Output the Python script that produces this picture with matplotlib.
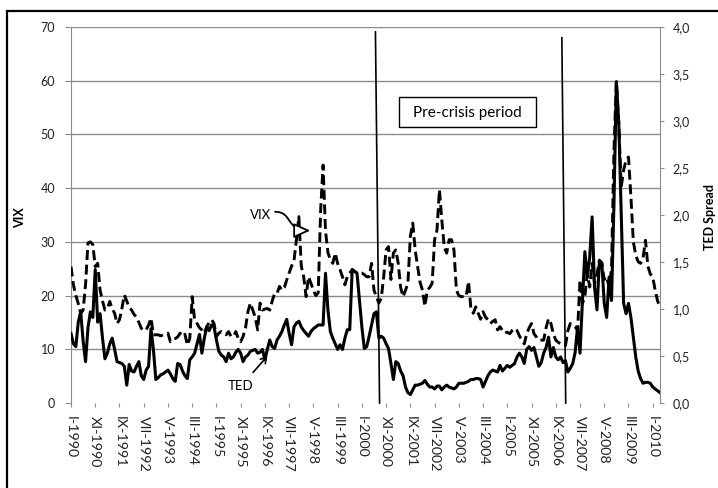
import numpy as np
import matplotlib.pyplot as plt
from matplotlib.patches import Rectangle, FancyArrowPatch
from matplotlib.path import Path
from matplotlib.ticker import FuncFormatter

plt.rcParams['font.family'] = ['Lato', 'DejaVu Sans']

# monthly series, I-1990 .. IV-2010
vix = [
    25.4, 22, 20, 18.5, 16.7, 17.3, 22, 29.8, 30, 29.5, 25.4, 26,           # 1990
    21, 19, 17.3, 17.6, 18.9, 17.5, 16.7, 14.8, 15.5, 17.6, 20.1, 19,       # 1991
    17.8, 17.3, 16.5, 16, 15, 13.9, 13.5, 13.6, 14.5, 15.8, 12.7, 12.7,     # 1992
    12.7, 12.5, 12.7, 12.9, 13, 11.4, 11.8, 12, 12.3, 13, 12.4, 12.8,       # 1993
    10.8, 12, 19.8, 15.5, 14.8, 14, 13.6, 13, 14.2, 15, 15.5, 14.8,         # 1994
    12.4, 13, 13.3, 13, 12.7, 13.3, 12.4, 12.4, 13.3, 12, 11.4, 12.4,       # 1995
    14, 17, 18.6, 17.3, 16, 13.6, 18.6, 17.3, 17.5, 17.6, 17.3, 19,         # 1996
    20.4, 20.4, 21.7, 21, 21.5, 22.9, 24.2, 25.5, 26.5, 30.4, 34.7, 25.5,   # 1997
    23.5, 19.8, 23.5, 22.3, 21, 20, 20.5, 36, 44.3, 32, 28, 26.7,           # 1998
    26, 27.9, 26, 24.8, 23.5, 22, 23.5, 24.2, 24.8, 24.5, 24.2, 24.2,       # 1999
    24.2, 23.9, 23.5, 23.5, 26, 21, 19.8, 18.6, 19.5, 23.5, 28.5, 29.1,     # 2000
    23, 27.9, 28.5, 26, 21.5, 19.8, 21, 22.3, 31, 33.5, 28.5, 25.4,         # 2001
    22.5, 21, 18, 21, 21.5, 22.3, 30.4, 32.2, 39.7, 34, 29, 27.9,           # 2002
    30.4, 30.4, 28.5, 21, 20, 19.8, 19.8, 19.8, 22.6, 17.5, 16.7, 17.9,     # 2003
    16.7, 15.6, 17, 16, 15.5, 14.8, 15.2, 15.5, 13.6, 14.2, 13.5, 13,       # 2004
    13.2, 12.9, 13.5, 13.9, 13.5, 12.5, 11.7, 11, 12.9, 14, 14.8, 12.9,     # 2005
    12.3, 11.7, 11.7, 11.7, 14, 15.7, 14.8, 12.9, 11.7, 11.3, 11, 10.8,     # 2006
    10.7, 13.5, 14.8, 14.5, 14.2, 13.5, 22.9, 18.5, 19.8, 24.1, 21.6, 26,   # 2007
    22.2, 24, 26.6, 26, 23, 23.5, 21.5, 25, 47, 59.9, 52, 40.2,             # 2008
    43.4, 45.2, 45.8, 38.4, 30, 27.5, 26.3, 26, 27, 30.3, 25.5, 24,         # 2009
    23.5, 21, 19, 17.9,                                                     # 2010
]

ted = [
    0.74, 0.63, 0.60, 0.86, 0.97, 0.66, 0.44, 0.80, 0.97, 0.91, 1.42, 0.86,
    0.95, 0.69, 0.47, 0.53, 0.63, 0.69, 0.57, 0.44, 0.43, 0.42, 0.39, 0.19,
    0.41, 0.34, 0.33, 0.39, 0.44, 0.29, 0.25, 0.35, 0.39, 0.79, 0.57, 0.25,
    0.27, 0.30, 0.31, 0.33, 0.35, 0.31, 0.26, 0.23, 0.42, 0.41, 0.34, 0.29,
    0.26, 0.46, 0.49, 0.53, 0.63, 0.73, 0.53, 0.69, 0.81, 0.77, 0.83, 0.81,
    0.67, 0.55, 0.51, 0.49, 0.44, 0.53, 0.47, 0.49, 0.54, 0.57, 0.53, 0.44,
    0.49, 0.51, 0.55, 0.56, 0.57, 0.53, 0.54, 0.57, 0.46, 0.57, 0.67, 0.60,
    0.58, 0.67, 0.71, 0.76, 0.83, 0.89, 0.74, 0.62, 0.81, 0.85, 0.87, 0.81,
    0.77, 0.74, 0.71, 0.76, 0.79, 0.81, 0.83, 0.83, 0.83, 1.38, 0.99, 0.76,
    0.69, 0.63, 0.57, 0.62, 0.57, 0.69, 0.78, 0.78, 1.42, 1.40, 1.38, 1.09,
    0.81, 0.58, 0.60, 0.71, 0.83, 0.95, 0.97, 0.69, 0.71, 0.69, 0.63, 0.58,
    0.42, 0.25, 0.44, 0.42, 0.34, 0.29, 0.17, 0.11, 0.09, 0.14, 0.19, 0.19,
    0.20, 0.21, 0.24, 0.20, 0.17, 0.17, 0.15, 0.18, 0.18, 0.14, 0.17, 0.19,
    0.17, 0.16, 0.15, 0.17, 0.21, 0.21, 0.21, 0.22, 0.23, 0.25, 0.25, 0.26,
    0.26, 0.25, 0.17, 0.23, 0.29, 0.33, 0.35, 0.34, 0.33, 0.40, 0.34, 0.37,
    0.40, 0.38, 0.40, 0.42, 0.49, 0.53, 0.49, 0.42, 0.57, 0.60, 0.56, 0.59,
    0.49, 0.39, 0.43, 0.53, 0.59, 0.70, 0.49, 0.59, 0.49, 0.46, 0.49, 0.43,
    0.45, 0.33, 0.37, 0.42, 0.54, 0.81, 0.53, 1.09, 1.61, 1.34, 1.55, 1.98,
    1.23, 0.99, 1.51, 1.49, 1.06, 0.91, 1.34, 1.09, 2.11, 3.42, 2.97, 2.00,
    1.06, 0.95, 1.06, 0.91, 0.70, 0.49, 0.34, 0.26, 0.21, 0.22, 0.22, 0.21,
    0.17, 0.15, 0.13, 0.11,
]

tick_labels = ["I-1990", "XI-1990", "IX-1991", "VII-1992", "V-1993", "III-1994",
               "I-1995", "XI-1995", "IX-1996", "VII-1997", "V-1998", "III-1999",
               "I-2000", "XI-2000", "IX-2001", "VII-2002", "V-2003", "III-2004",
               "I-2005", "XI-2005", "IX-2006", "VII-2007", "V-2008", "III-2009",
               "I-2010"]

# hand-drawn period separators (month index at top / bottom, top height in VIX units)
sep_top = [125.6, 202.5]
sep_bottom = [127.3, 204.1]
sep_height = [69.1, 68.0]

months = np.arange(len(vix))
grey = '#8c8c8c'

fig = plt.figure(figsize=(7.18, 4.88), dpi=100)
fig.patches.append(Rectangle((7 / 718, -0.1), 1.0, 1.1 - 11 / 488, transform=fig.transFigure,
                             fill=False, edgecolor='black', linewidth=1.6))

ax = fig.add_axes([71 / 718, 1 - 403 / 488, 589 / 718, 376 / 488])
ax2 = ax.twinx()

ax.plot(months, vix, color='black', linewidth=2.1, linestyle=(0, (3.4, 1.6)), zorder=3)
ax2.plot(months, ted, color='black', linewidth=2.2, zorder=3)

ax.set_xlim(0, len(vix) - 1)
ax.set_ylim(0, 70)
ax2.set_ylim(0, 4)

ax.set_yticks(range(0, 71, 10))
ax2.set_yticks(np.arange(0, 4.01, 0.5))
ax2.yaxis.set_major_formatter(FuncFormatter(lambda v, _: f"{v:.1f}".replace('.', ',')))
ax.set_xticks(months[::10][:len(tick_labels)])
ax.set_xticklabels(tick_labels, rotation=270, ha='center', va='top')

ax.yaxis.grid(True, color=grey, linewidth=1.0)
ax.get_ygridlines()[0].set_visible(False)
ax.set_axisbelow(True)

for a in (ax, ax2):
    for s in a.spines.values():
        s.set_visible(False)
ax.spines['left'].set_visible(True)
ax.spines['left'].set_color(grey)
ax2.spines['right'].set_visible(True)
ax2.spines['right'].set_color(grey)

ax.tick_params(axis='y', length=4.3, color=grey, pad=7, labelsize=9, labelcolor='#222222')
ax.tick_params(axis='x', length=3, color=grey, pad=6, labelsize=10.3, labelcolor='#222222')
ax2.tick_params(axis='y', length=3, color=grey, pad=6, labelsize=9, labelcolor='#222222')

fig.text(20 / 718, 1 - 218 / 488, "VIX", rotation=90, ha='center', va='center',
         fontsize=9, fontweight='bold')
fig.text(710 / 718, 1 - 217 / 488, "TED Spread", rotation=90, ha='center', va='center',
         fontsize=9, fontweight='bold')

# separators
for xt, xb, h in zip(sep_top, sep_bottom, sep_height):
    ax.plot([xt, xb], [h, 0], color='black', linewidth=1.2, zorder=4, clip_on=False)

# label box
ax.add_patch(Rectangle((0.557, 0.734), 0.232, 0.080, transform=ax.transAxes,
                       facecolor='white', edgecolor='black', linewidth=1.0, zorder=5))
ax.text(0.673, 0.772, "Pre-crisis period", transform=ax.transAxes, ha='center', va='center',
        fontsize=11, zorder=6)

# series call-outs
ax.text(78.3, 35.0, "VIX", fontsize=9.5, ha='center', va='center', zorder=6)
vix_curve = Path([(84.2, 35.6), (91.5, 35.6), (88.5, 32.1), (98.7, 32.1)],
                 [Path.MOVETO, Path.CURVE4, Path.CURVE4, Path.CURVE4])
ax.add_patch(FancyArrowPatch(path=vix_curve, arrowstyle='-|>,head_length=1.0,head_width=0.45',
                             mutation_scale=10, facecolor='white', edgecolor='black',
                             linewidth=1.3, zorder=6))
ax.annotate("TED", xy=(81.0, 8.7), xytext=(70.0, 3.1), fontsize=9.5, ha='center', va='center',
            arrowprops=dict(arrowstyle='->,head_length=0.4,head_width=0.25', color='black',
                            lw=1.2, shrinkA=5, shrinkB=0), zorder=6)

fig.savefig("out.png", dpi=100, facecolor='white')
